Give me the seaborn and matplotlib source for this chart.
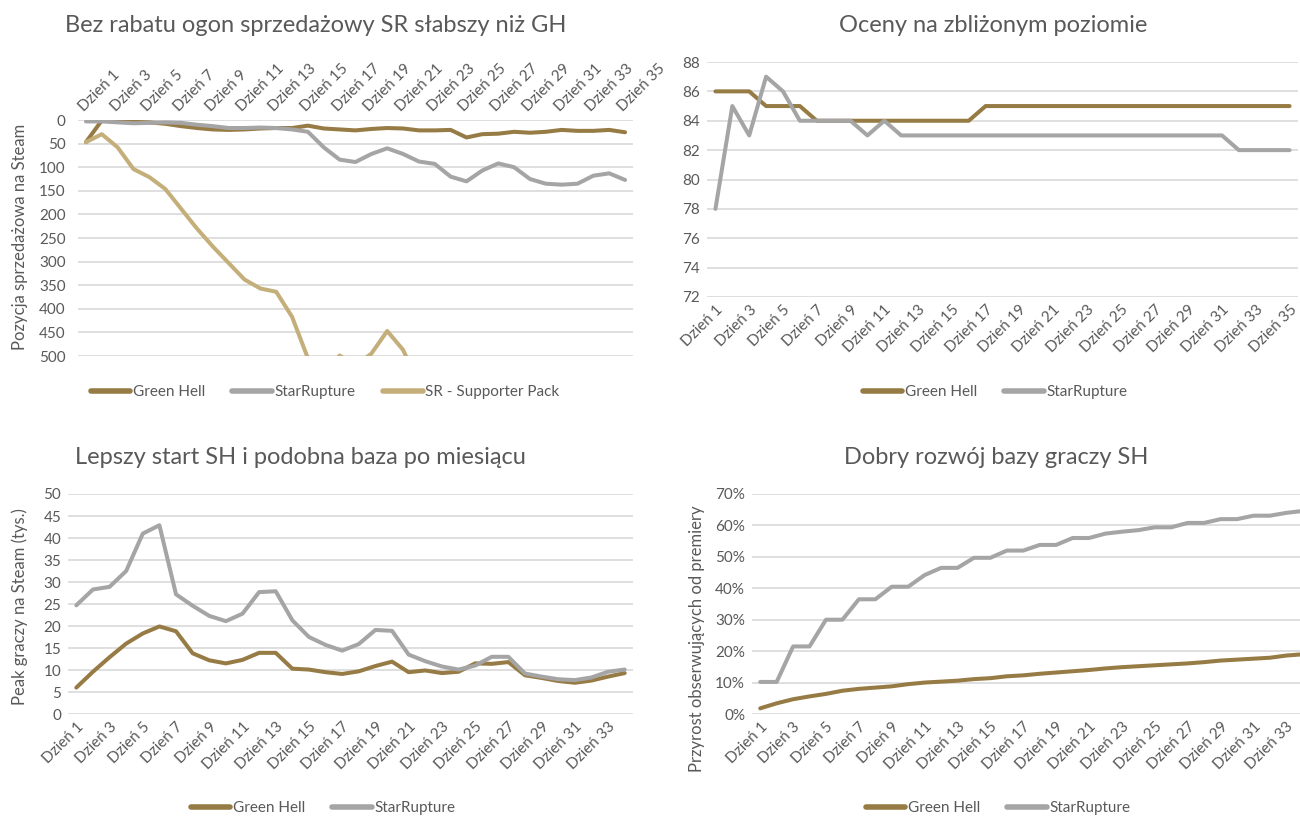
import matplotlib.pyplot as plt
import seaborn as sns
import numpy as np
from matplotlib.ticker import FuncFormatter

# data
series_names = ['Green Hell', 'StarRupture', 'SR - Supporter Pack']

# sales rank on Steam (lower = better), 35 days
rank_gh = [47, 1, 2, 4, 5, 8, 13, 17, 20, 21, 20, 18, 17, 17, 12, 18, 20, 22,
           19, 17, 18, 22, 22, 21, 37, 30, 29, 25, 27, 25, 21, 23, 23, 21, 26]
rank_sr = [3, 3, 5, 7, 6, 5, 6, 10, 13, 17, 17, 16, 17, 20, 25, 58, 84, 89,
           72, 60, 72, 88, 93, 120, 130, 107, 92, 100, 125, 135, 137, 135,
           118, 113, 127]
rank_pack = [47, 30, 58, 104, 121, 146, 188, 230, 268, 303, 338, 357, 364,
             417, 505, 540, 499, 520, 495, 447, 487, 560, 610, 650, 700, 720,
             760, 800, 820, 850, 880, 900, 930, 950, 980]

# user score, 35 days
score_gh = [86, 86, 86, 85, 85, 85, 84, 84, 84, 84, 84, 84, 84, 84, 84, 84,
            85, 85, 85, 85, 85, 85, 85, 85, 85, 85, 85, 85, 85, 85, 85, 85,
            85, 85, 85]
score_sr = [78, 85, 83, 87, 86, 84, 84, 84, 84, 83, 84, 83, 83, 83, 83, 83,
            83, 83, 83, 83, 83, 83, 83, 83, 83, 83, 83, 83, 83, 83, 83, 82,
            82, 82, 82]

# peak players (thousands), 34 days
peak_gh = [6.0, 9.6, 12.9, 16.0, 18.3, 19.9, 18.8, 13.8, 12.2, 11.5, 12.3,
           13.9, 13.9, 10.3, 10.1, 9.5, 9.1, 9.7, 10.9, 11.9, 9.5, 9.9, 9.3,
           9.6, 11.5, 11.4, 11.8, 8.8, 8.2, 7.5, 7.1, 7.6, 8.5, 9.3]
peak_sr = [24.7, 28.3, 28.9, 32.5, 41.0, 42.9, 27.2, 24.6, 22.3, 21.1, 22.8,
           27.7, 27.9, 21.3, 17.5, 15.7, 14.4, 15.9, 19.1, 18.9, 13.5, 12.0,
           10.8, 10.1, 11.0, 13.0, 13.0, 9.2, 8.5, 7.9, 7.7, 8.3, 9.6, 10.1]

# followers growth since launch (%), 34 days
follow_gh = [1.8, 3.4, 4.7, 5.6, 6.4, 7.4, 8.0, 8.4, 8.8, 9.5, 10.0, 10.3,
             10.6, 11.1, 11.4, 12.0, 12.3, 12.8, 13.2, 13.6, 14.0, 14.5, 14.9,
             15.2, 15.5, 15.8, 16.1, 16.5, 17.0, 17.3, 17.6, 17.9, 18.6, 19.0]
follow_sr = [10.2, 10.2, 21.5, 21.5, 30.0, 30.0, 36.5, 36.5, 40.5, 40.5, 44.2,
             46.5, 46.5, 49.7, 49.7, 52.0, 52.0, 53.8, 53.8, 56.0, 56.0, 57.4,
             58.0, 58.5, 59.4, 59.4, 60.8, 60.8, 62.0, 62.0, 63.1, 63.1, 64.0,
             64.6]

day_labels = ['Dzień %d' % (i + 1) for i in range(35)]

GH_COLOR = '#977B45'
SR_COLOR = '#A5A5A5'
PACK_COLOR = '#C4AF7B'
GRID = '#D9D9D9'
TXT = '#595959'
LW = 2.9

sns.set_style('white')
plt.rcParams['font.family'] = ['Lato', 'DejaVu Sans']

W, H = 1300, 818
fig = plt.figure(figsize=(13, 8.18), dpi=100)


def box(left, top, right, bottom):
    return [left / W, 1 - bottom / H, (right - left) / W, (bottom - top) / H]


def style(ax, n, top=False, ypad=5):
    ax.set_xlim(-0.5, n - 0.5)
    ticks = list(range(0, n, 2))
    ax.set_xticks(ticks)
    if top:
        ax.xaxis.tick_top()
        ax.set_xticklabels([day_labels[i] for i in ticks], rotation=45,
                           ha='left', va='bottom', rotation_mode='anchor')
    else:
        ax.set_xticklabels([day_labels[i] for i in ticks], rotation=45,
                           ha='right', va='top', rotation_mode='anchor')
    ax.yaxis.grid(True, color=GRID, lw=1.2)
    ax.xaxis.grid(False)
    ax.set_axisbelow(True)
    for s in ax.spines.values():
        s.set_visible(False)
    ax.tick_params(axis='both', length=0, labelsize=11, colors=TXT)
    ax.tick_params(axis='y', pad=ypad)
    ax.tick_params(axis='x', pad=4)
    ax.set_xlabel('')
    ax.set_ylabel('')


def draw(ax, series, colors, labels):
    for vals, c, lab in zip(series, colors, labels):
        x = np.arange(len(vals))
        sns.lineplot(x=x, y=vals, color=c, lw=LW, label=lab, ax=ax,
                     solid_joinstyle='round', solid_capstyle='round')


def legend(ax, cx, cy, ncol):
    h, l = ax.get_legend_handles_labels()
    leg = ax.legend(h, l, loc='center', bbox_to_anchor=(cx / W, 1 - cy / H),
                    bbox_transform=fig.transFigure, ncol=ncol, frameon=False,
                    handlelength=2.6, handletextpad=0.15, columnspacing=1.8,
                    fontsize=11)
    for t in leg.get_texts():
        t.set_color(TXT)
    for ln in leg.get_lines():
        ln.set_linewidth(4)


def title(cx, cy, s):
    fig.text(cx / W, 1 - cy / H, s, ha='center', va='center', fontsize=17,
             color=TXT)


def ylab(cx, cy, s):
    fig.text(cx / W, 1 - cy / H, s, rotation=90, ha='center', va='center',
             fontsize=12, color=TXT)


# top-left: sales rank
ax1 = fig.add_axes(box(78, 120, 633, 356))
draw(ax1, [rank_gh, rank_sr, rank_pack], [GH_COLOR, SR_COLOR, PACK_COLOR],
     series_names)
ax1.set_ylim(500, 0)
ax1.set_yticks(range(0, 501, 50))
style(ax1, 35, top=True, ypad=9)
legend(ax1, 325, 392, 3)
title(316, 25, 'Bez rabatu ogon sprzedażowy SR słabszy niż GH')
ylab(20, 237, 'Pozycja sprzedażowa na Steam')

# top-right: scores
ax2 = fig.add_axes(box(707, 62, 1298, 297))
draw(ax2, [score_gh, score_sr], [GH_COLOR, SR_COLOR], series_names[:2])
ax2.set_ylim(72, 88)
ax2.set_yticks(range(72, 89, 2))
style(ax2, 35)
legend(ax2, 995, 392, 2)
title(993, 25, 'Oceny na zbliżonym poziomie')

# bottom-left: peak players
ax3 = fig.add_axes(box(68, 494, 633, 714))
draw(ax3, [peak_gh, peak_sr], [GH_COLOR, SR_COLOR], series_names[:2])
ax3.set_ylim(0, 50)
ax3.set_yticks(range(0, 51, 5))
style(ax3, 34)
legend(ax3, 323, 808, 2)
title(300, 458, 'Lepszy start SH i podobna baza po miesiącu')
ylab(20, 607, 'Peak graczy na Steam (tys.)')

# bottom-right: followers growth
ax4 = fig.add_axes(box(752, 494, 1311, 714))
draw(ax4, [follow_gh, follow_sr], [GH_COLOR, SR_COLOR], series_names[:2])
ax4.set_ylim(0, 70)
ax4.set_yticks(range(0, 71, 10))
ax4.yaxis.set_major_formatter(FuncFormatter(lambda v, p: '%d%%' % v))
style(ax4, 34)
legend(ax4, 998, 808, 2)
title(996, 458, 'Dobry rozwój bazy graczy SH')
ylab(697, 639, 'Przyrost obserwujących od premiery')

fig.savefig('out.png', dpi=100)
